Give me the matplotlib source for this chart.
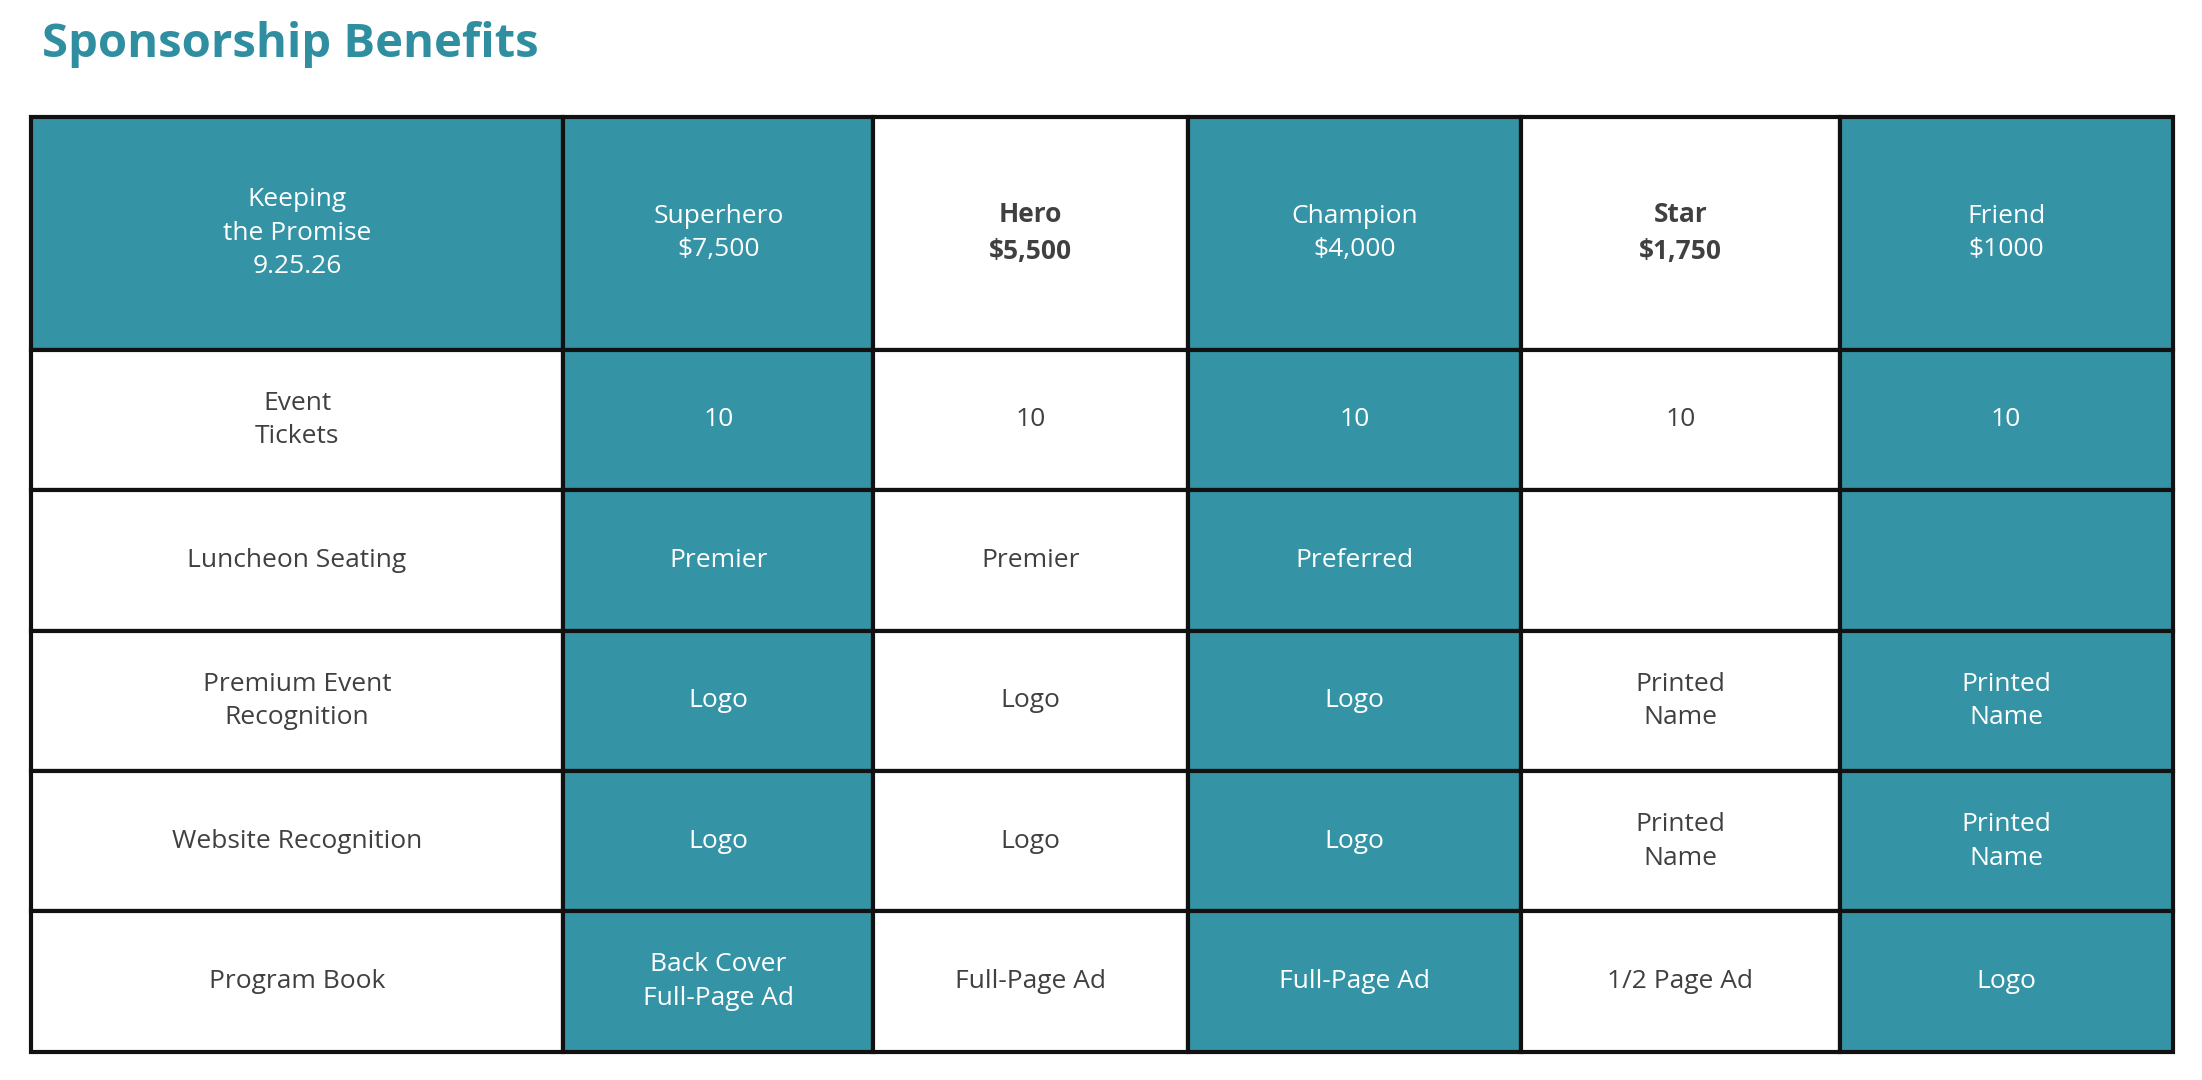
import matplotlib
matplotlib.use("Agg")
import matplotlib.pyplot as plt
from matplotlib.patches import Rectangle

title = "Sponsorship Benefits"
headers = ["Keeping\nthe Promise\n9.25.26", "Superhero\n$7,500", "Hero\n$5,500",
           "Champion\n$4,000", "Star\n$1,750", "Friend\n$1000"]
row_labels = ["Event\nTickets", "Luncheon Seating", "Premium Event\nRecognition",
              "Website Recognition", "Program Book"]
superhero = ["10", "Premier", "Logo", "Logo", "Back Cover\nFull-Page Ad"]
hero = ["10", "Premier", "Logo", "Logo", "Full-Page Ad"]
champion = ["10", "Preferred", "Logo", "Logo", "Full-Page Ad"]
star = ["10", "", "Printed\nName", "Printed\nName", "1/2 Page Ad"]
friend = ["10", "", "Printed\nName", "Printed\nName", "Logo"]

TEAL = "#3493a5"
DARK = "#404040"
W, H = 1568, 769
col_edges = [22, 401, 622, 846, 1083, 1310, 1547]
row_edges = [83, 249, 349, 449, 549, 649, 749]

fig = plt.figure(figsize=(22.02, 10.80), dpi=100)
ax = fig.add_axes([0, 0, 1, 1])
ax.set_xlim(0, W); ax.set_ylim(H, 0); ax.axis("off")
ax.text(30, 32, title, color="#2f8fa0", fontsize=34, fontweight="bold",
        family="Open Sans", va="center", ha="left")

columns = [row_labels, superhero, hero, champion, star, friend]
teal_cols = {1, 3, 5}
for c in range(6):
    for r in range(6):
        x0, x1 = col_edges[c], col_edges[c + 1]
        y0, y1 = row_edges[r], row_edges[r + 1]
        teal = (c in teal_cols) or (r == 0 and c == 0)
        ax.add_patch(Rectangle((x0, y0), x1 - x0, y1 - y0, facecolor=TEAL if teal else "white",
                               edgecolor="#111111", linewidth=3, zorder=1))
        txt = headers[c] if r == 0 else columns[c][r - 1]
        bold = r == 0 and c in (2, 4)
        ax.text((x0 + x1) / 2, (y0 + y1) / 2, txt, ha="center", va="center",
                color="white" if teal else DARK, fontsize=19, family="Open Sans",
                fontweight="bold" if bold else "normal", linespacing=1.45, zorder=2)

fig.savefig("out.png", dpi=100)
